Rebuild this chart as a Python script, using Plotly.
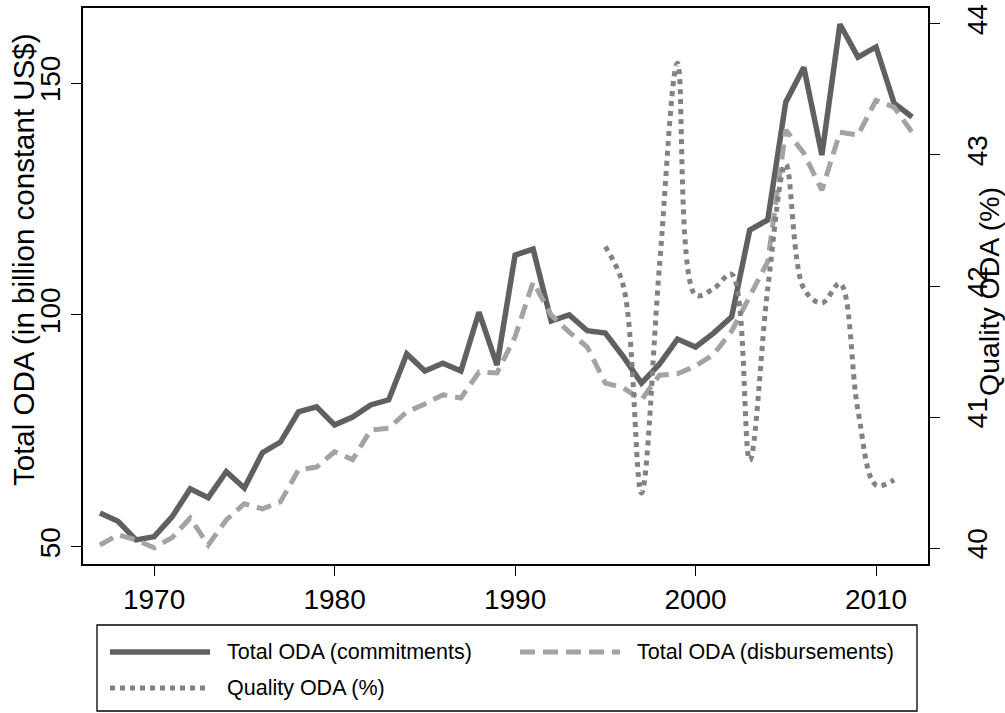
import plotly.graph_objects as go

# ---------------- data ----------------
years = list(range(1967, 2013))
commitments = [57.3, 55.5, 51.5, 52.2, 56.5, 62.5, 60.6, 66.2, 62.7, 70.3,
               72.6, 79.1, 80.2, 76.3, 78.0, 80.6, 81.7, 91.6, 87.9, 89.6,
               87.9, 100.6, 89.2, 112.9, 114.2, 98.7, 100.0, 96.6, 96.1, 91.0,
               85.3, 89.4, 94.8, 93.1, 96.1, 99.6, 118.3, 120.5, 145.9, 153.4,
               134.5, 162.7, 155.6, 157.8, 145.7, 142.7]
disbursements = [50.4, 52.6, 51.5, 49.8, 52.0, 56.2, 50.4, 55.8, 59.3, 58.2,
                 59.7, 66.6, 67.2, 70.5, 68.8, 75.2, 75.6, 79.1, 80.8, 82.8,
                 82.1, 87.7, 87.5, 95.3, 107.1, 100.0, 96.3, 93.1, 85.3, 84.3,
                 81.7, 87.0, 87.3, 89.0, 91.5, 96.5, 104.0, 111.5, 139.9, 134.9,
                 126.9, 139.4, 138.8, 146.3, 144.8, 139.4]
quality_years = list(range(1995, 2012))
quality = [42.30, 42.00, 40.42, 42.15, 43.70, 41.93, 41.98, 42.09, 40.67,
           41.98, 42.93, 41.98, 41.87, 42.02, 41.05, 40.48, 40.52]

x_ticks = [1970, 1980, 1990, 2000, 2010]
y_left_ticks = [50, 100, 150]
y_right_ticks = [40, 41, 42, 43, 44]

series_names = ["Total ODA (commitments)", "Total ODA (disbursements)", "Quality ODA (%)"]
left_title = "Total ODA (in billion constant US$)"
right_title = "Quality ODA (%)"

# ---------------- layout geometry ----------------
W, H = 1005, 713
PL, PR, PT, PB = 83, 928, 8, 564  # plot area in pixels

def px(xp):
    return (xp - PL) / (PR - PL)

def py(yp):
    return (PB - yp) / (PB - PT)

FONT = "Liberation Sans, Arial, Helvetica, sans-serif"
C_SOLID = "#606060"
C_DASH = "#a3a3a3"
C_DOT = "#828282"
DASH_PATTERN = "15px,8px"

fig = go.Figure()
fig.add_trace(go.Scatter(x=years, y=commitments, mode="lines", name=series_names[0],
                         line=dict(color=C_SOLID, width=5.5), showlegend=False))
fig.add_trace(go.Scatter(x=years, y=disbursements, mode="lines", name=series_names[1],
                         line=dict(color=C_DASH, width=5, dash=DASH_PATTERN), showlegend=False))
fig.add_trace(go.Scatter(x=quality_years, y=quality, mode="lines", name=series_names[2],
                         yaxis="y2",
                         line=dict(color=C_DOT, width=5, dash="dot", shape="spline", smoothing=1),
                         showlegend=False))

axis_common = dict(showgrid=False, zeroline=False, showline=True, linecolor="black",
                   linewidth=1.5, ticks="outside", ticklen=10, tickwidth=1.3,
                   tickcolor="black", ticklabeloverflow="allow",
                   tickfont=dict(family=FONT, size=28, color="black"))

fig.update_layout(
    width=W, height=H,
    margin=dict(l=PL, r=W - PR, t=PT, b=H - PB, autoexpand=False),
    paper_bgcolor="white", plot_bgcolor="white",
    font=dict(family=FONT, color="black"),
    xaxis=dict(range=[1966.06, 2012.88], tickvals=x_ticks, mirror=True, **axis_common),
    yaxis=dict(range=[46.3, 166.2], tickvals=y_left_ticks, tickangle=-90, **axis_common),
    yaxis2=dict(range=[39.878, 44.122], tickvals=y_right_ticks, tickangle=-90,
                overlaying="y", side="right", ticklabelstandoff=14, **axis_common),
)

annotations = [
    dict(text=left_title, textangle=-90, x=px(23), y=py(260), xref="paper", yref="paper",
         xanchor="center", yanchor="middle", showarrow=False,
         font=dict(family=FONT, size=29.5, color="black")),
    dict(text=right_title, textangle=-90, x=px(989), y=py(292), xref="paper", yref="paper",
         xanchor="center", yanchor="middle", showarrow=False,
         font=dict(family=FONT, size=28.5, color="black")),
]

# ---------------- legend (drawn box) ----------------
shapes = [dict(type="rect", xref="paper", yref="paper",
               x0=px(97), x1=px(917), y0=py(625), y1=py(711),
               line=dict(color="black", width=1.3), fillcolor="white", layer="below")]

legend_items = [
    (series_names[0], C_SOLID, "solid", 5.5, 110, 652),
    (series_names[1], C_DASH, DASH_PATTERN, 5, 520, 652),
    (series_names[2], C_DOT, "dot", 5, 110, 688),
]
for name, color, dash, width, x0, yy in legend_items:
    shapes.append(dict(type="line", xref="paper", yref="paper",
                       x0=px(x0), x1=px(x0 + 100), y0=py(yy), y1=py(yy),
                       line=dict(color=color, width=width, dash=dash)))
    annotations.append(dict(text=name, x=px(x0 + 115), y=py(yy), xref="paper", yref="paper",
                            xanchor="left", yanchor="middle", showarrow=False,
                            font=dict(family=FONT, size=21.5, color="black")))

fig.update_layout(shapes=shapes, annotations=annotations)

# remove the default page margin so the figure fills the 1005x713 window exactly
fig.write_html("out.html", config={"displayModeBar": False},
               post_script="document.body.style.margin='0';document.body.style.overflow='hidden';")
